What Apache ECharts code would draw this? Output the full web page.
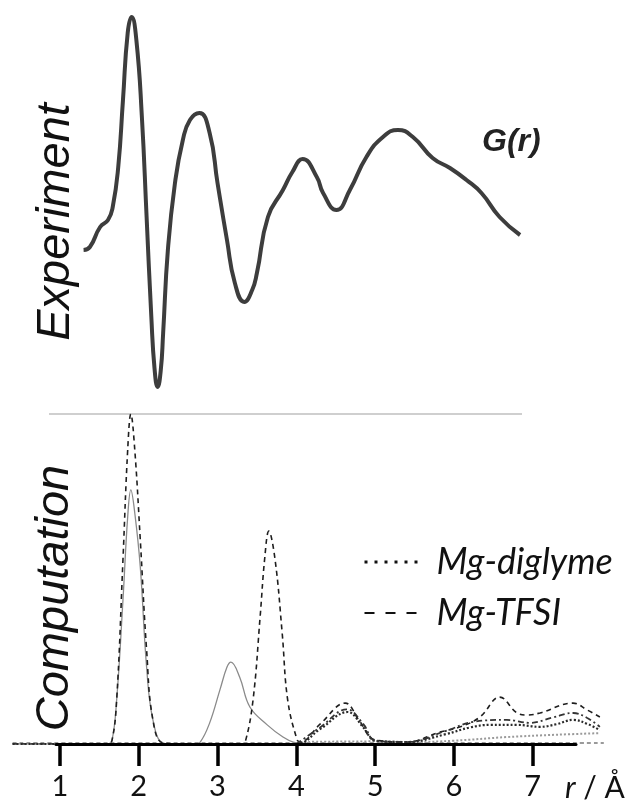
<!DOCTYPE html>
<html>
<head>
    <meta charset="UTF-8">
    <title>G(r) experiment vs computation</title>
    <script src="https://cdn.jsdelivr.net/npm/echarts/dist/echarts.min.js"></script>
    <style>
        html, body { margin: 0; padding: 0; background: #fff; }
        #main { width: 637px; height: 801px; }
    </style>
</head>
<body>
    <div id="main"></div>
    <script>
        // r positions of the axis ticks
        var rTicks = [1, 2, 3, 4, 5, 6, 7];

        // experimental G(r), [r, G] (arbitrary units)
        var expG = [
            [1.30, 0], [1.38, 0.15], [1.51, 1.15], [1.61, 1.5], [1.67, 2.15], [1.74, 4.15],
            [1.80, 7.5], [1.86, 10.85], [1.91, 11.65], [1.97, 10.5], [2.04, 6.65], [2.10, 1.65],
            [2.16, -3.35], [2.20, -5.9], [2.24, -6.85], [2.28, -6.0], [2.31, -4.15], [2.37, 0],
            [2.46, 3.35], [2.56, 5.5], [2.65, 6.5], [2.77, 6.85], [2.90, 5.85], [3.00, 3.35],
            [3.12, 0.5], [3.22, -1.65], [3.34, -2.6], [3.44, -2.0], [3.50, -1.15], [3.64, 1.65],
            [3.83, 3.0], [3.95, 3.9], [4.08, 4.55], [4.26, 3.65], [4.34, 2.85], [4.51, 2.0],
            [4.68, 3.0], [4.89, 4.65], [5.10, 5.65], [5.29, 6.0], [5.48, 5.65], [5.73, 4.6],
            [5.95, 4.1], [6.16, 3.5], [6.35, 2.85], [6.58, 1.65], [6.84, 0.75]
        ];

        // computed partial g(r), [r, g]
        var totalG = [
            [0.40, 0], [1.60, 0], [1.66, 0.1], [1.72, 1.33], [1.80, 4.36], [1.86, 6.88], [1.90, 7.70],
            [1.95, 7.0], [2.02, 5.36], [2.10, 2.33], [2.18, 0.73], [2.31, 0.03], [2.50, 0],
            [2.70, 0], [2.78, 0.06], [2.90, 0.64], [3.03, 1.64], [3.12, 2.33], [3.17, 2.48], [3.28, 2.03],
            [3.41, 1.12], [3.63, 0.58], [3.83, 0.21], [3.96, 0.06], [4.15, 0]
        ];
        var tfsiG = [
            [0.40, 0], [1.60, 0], [1.66, 0.1], [1.72, 1.33], [1.80, 5.58], [1.86, 8.91], [1.90, 10.0],
            [1.95, 8.91], [2.02, 6.18], [2.10, 2.85], [2.18, 0.73], [2.31, 0.03], [2.60, 0],
            [3.30, 0], [3.35, 0.05], [3.45, 1.33], [3.54, 3.85], [3.60, 5.67], [3.65, 6.45], [3.73, 5.58],
            [3.82, 3.36], [3.89, 1.33], [4.01, 0.12], [4.05, 0.06], [4.30, 0.6], [4.62, 1.24],
            [4.80, 0.7], [5.00, 0.12], [5.40, 0.06], [5.82, 0.36], [6.08, 0.52], [6.33, 0.82],
            [6.58, 1.42], [6.80, 0.94], [6.93, 0.88], [7.09, 0.94], [7.51, 1.24], [7.69, 1.03],
            [7.85, 0.82]
        ];
        var tfsiG2 = [
            [4.00, 0], [4.30, 0.5], [4.64, 1.05], [4.85, 0.6], [5.00, 0.1], [5.40, 0.06],
            [5.90, 0.4], [6.24, 0.67], [6.67, 0.73], [6.96, 0.64], [7.25, 0.8], [7.51, 0.94],
            [7.69, 0.79], [7.85, 0.52]
        ];
        var diglymeG = [
            [0.40, 0], [4.00, 0], [4.30, 0.45], [4.65, 0.97], [4.85, 0.5], [5.00, 0.1],
            [5.40, 0.06], [5.90, 0.3], [6.20, 0.5], [6.46, 0.58], [6.80, 0.58], [7.09, 0.52],
            [7.30, 0.6], [7.51, 0.73], [7.70, 0.6], [7.85, 0.42]
        ];
        var diglymeG2 = [
            [4.05, 0.06], [5.00, 0.08], [5.50, 0.06], [6.00, 0.1], [6.67, 0.21], [7.30, 0.28],
            [7.85, 0.33]
        ];
        var zeroG = [[0.40, 0.03], [7.90, 0.03]];

        var chart = echarts.init(document.getElementById('main'));

        // computed curves live on a wider hidden axis (r 0.4 .. 7.9) with the same scale
        function curve(name, data, color, width, type, z) {
            return {
                name: name,
                type: 'line',
                xAxisIndex: 2,
                yAxisIndex: 2,
                data: data,
                symbol: 'none',
                smooth: 0.4,
                z: z || 2,
                itemStyle: { color: color },
                lineStyle: { color: color, width: width, type: type }
            };
        }

        var option = {
            animation: false,
            backgroundColor: '#fff',
            grid: [
                { left: 56, right: 61, top: 10, height: 400 },
                { left: 56, right: 61, top: 414, height: 330 },
                { left: 12.6, right: 33.2, top: 414, height: 330 }
            ],
            xAxis: [
                { gridIndex: 0, type: 'value', min: 0.95, max: 7.55, show: false },
                {
                    gridIndex: 1, type: 'value', min: 0.95, max: 7.55, z: 5,
                    axisLine: { lineStyle: { color: '#000', width: 3 } },
                    axisTick: { customValues: rTicks, length: 22, lineStyle: { color: '#000', width: 3.5 } },
                    axisLabel: {
                        customValues: rTicks, margin: 28,
                        fontFamily: 'Lato', fontSize: 29, color: '#111'
                    },
                    splitLine: { show: false }
                },
                { gridIndex: 2, type: 'value', min: 0.4, max: 7.9, show: false }
            ],
            yAxis: [
                { gridIndex: 0, type: 'value', min: -8, max: 12, show: false },
                { gridIndex: 1, type: 'value', min: 0, max: 10, show: false },
                { gridIndex: 2, type: 'value', min: 0, max: 10, show: false }
            ],
            legend: {
                orient: 'vertical',
                left: 358,
                top: 537,
                itemWidth: 57,
                itemHeight: 14,
                itemGap: 11,
                selectedMode: false,
                itemStyle: { opacity: 0 },
                textStyle: {
                    fontFamily: 'Lato', fontStyle: 'italic', fontSize: 36,
                    color: '#111', lineHeight: 40, padding: [0, 0, 0, 10]
                },
                data: [
                    { name: 'Mg-diglyme', lineStyle: { color: '#111', width: 3, type: [3, 7] } },
                    { name: 'Mg-TFSI', lineStyle: { color: '#111', width: 2.2, type: [10, 11] } }
                ]
            },
            graphic: [
                {
                    type: 'line',
                    shape: { x1: 49, y1: 414, x2: 522, y2: 414 },
                    style: { stroke: '#cfcfcf', lineWidth: 2 }
                },
                {
                    type: 'text', x: 56, y: 222, rotation: Math.PI / 2,
                    style: {
                        text: 'Experiment', fill: '#111',
                        font: 'italic 47px "Liberation Sans", Arial, sans-serif',
                        textAlign: 'center', textVerticalAlign: 'middle'
                    }
                },
                {
                    type: 'text', x: 55, y: 598, rotation: Math.PI / 2,
                    style: {
                        text: 'Computation', fill: '#111',
                        font: 'italic 47px "Liberation Sans", Arial, sans-serif',
                        textAlign: 'center', textVerticalAlign: 'middle'
                    }
                },
                {
                    type: 'text', x: 482, y: 142,
                    style: {
                        text: 'G(r)', fill: '#222',
                        font: 'italic bold 32px "Liberation Sans", Arial, sans-serif',
                        textAlign: 'left', textVerticalAlign: 'middle'
                    }
                },
                {
                    type: 'text', x: 565, y: 788,
                    style: {
                        text: '{i|r} / Å', fill: '#111',
                        font: '30px Lato, sans-serif',
                        textAlign: 'left', textVerticalAlign: 'middle',
                        rich: { i: { fontStyle: 'italic', fontFamily: 'Lato', fontSize: 31 } }
                    }
                }
            ],
            series: [
                {
                    name: 'G(r)',
                    type: 'line',
                    xAxisIndex: 0,
                    yAxisIndex: 0,
                    data: expG,
                    symbol: 'none',
                    smooth: 0.5,
                    itemStyle: { color: '#3d3d3d' },
                    lineStyle: { color: '#3d3d3d', width: 4 }
                },
                curve('zero', zeroG, '#9a9a9a', 2, [4, 3], 1),
                curve('total', totalG, '#8a8a8a', 1.3, 'solid', 2),
                curve('Mg-TFSI', tfsiG, '#1e1e1e', 1.6, [5, 4], 3),
                curve('Mg-diglyme', diglymeG, '#2a2a2a', 2.2, [2, 2], 3),
                curve('Mg-TFSI', tfsiG2, '#333', 1.8, [6, 3, 2, 3], 3),
                curve('Mg-diglyme', diglymeG2, '#9a9a9a', 2, [2, 2], 2)
            ]
        };

        chart.setOption(option);
    </script>
</body>
</html>
